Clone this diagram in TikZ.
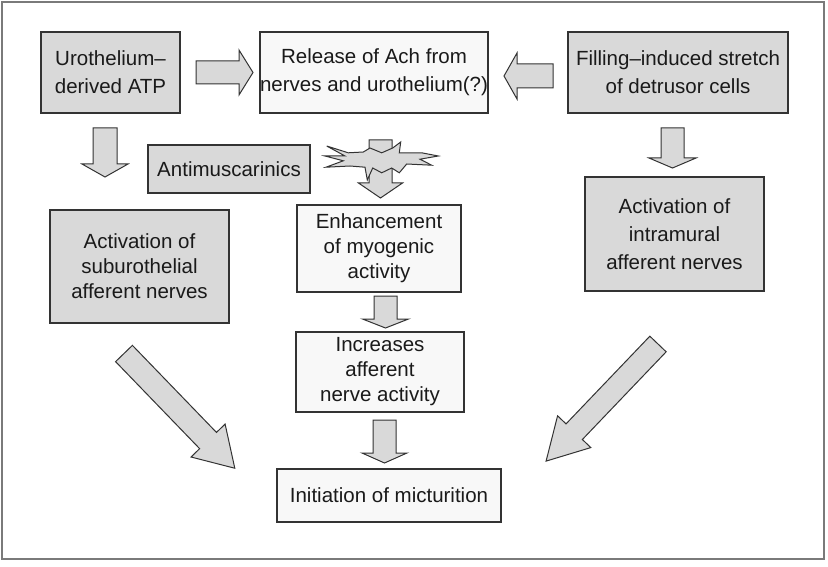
\documentclass[tikz,border=0pt]{standalone}
\usepackage{fontspec}
\setmainfont{Liberation Sans}
\definecolor{grayfill}{HTML}{D9D9D9}
\definecolor{lightfill}{HTML}{F8F8F8}
\definecolor{linec}{HTML}{333333}
\definecolor{framec}{HTML}{7A7A7A}
\definecolor{textc}{HTML}{1A1A1A}
\tikzset{
  boxbase/.style={draw=linec, line width=1.1pt, align=center, inner sep=0pt, text=textc},
  gbox/.style={boxbase, fill=grayfill},
  wbox/.style={boxbase, fill=lightfill},
  fa/.style={font=\fontsize{20.5}{28}\selectfont},
  fb/.style={font=\fontsize{20.5}{25}\selectfont},
  barr/.style={draw=linec, fill=grayfill, line width=1pt, line join=miter},
}
\newcommand{\blockarr}[7]{%
  \begin{scope}[shift={(#1,#2)},rotate=#3]
    \draw[barr] (0,-#5) -- (#4-#7,-#5) -- (#4-#7,-#6) -- (#4,0) -- (#4-#7,#6) -- (#4-#7,#5) -- (0,#5) -- cycle;
  \end{scope}}
\begin{document}
\begin{tikzpicture}[x=1pt,y=-1pt]
\useasboundingbox (0,0) rectangle (828,567);
\draw[framec, line width=1.5pt] (2,2) rectangle (824,559);

% boxes
\node[gbox, fa, minimum width=139pt, minimum height=81pt] (uro) at (110.5,72.5) {Urothelium–\\derived ATP};
\node[wbox, fa, minimum width=228pt, minimum height=81pt] (rel) at (374,72.5) {Release of Ach from\\nerves and urothelium(?)};
\node[gbox, fa, minimum width=220pt, minimum height=81pt] (fill) at (678,72.5) {Filling–induced stretch\\of detrusor cells};
\node[gbox, fa, minimum width=162pt, minimum height=48pt] (anti) at (229,169) {Antimuscarinics};
\node[gbox, fb, minimum width=179pt, minimum height=113pt] (sub) at (139.5,266.5) {Activation of\\suburothelial\\afferent nerves};
\node[gbox, fa, minimum width=179pt, minimum height=114pt] (intra) at (674.5,234) {Activation of\\intramural\\afferent nerves};
\node[wbox, fb, minimum width=164pt, minimum height=87pt] (enh) at (379,248.5) {Enhancement\\of myogenic\\activity};
\node[wbox, fb, minimum width=168pt, minimum height=80pt] (inc) at (380,372) {Increases\\afferent\\nerve activity};
\node[wbox, fa, minimum width=224pt, minimum height=53pt] (init) at (389,495.5) {Initiation of micturition};

% block arrows
\blockarr{196}{72.5}{0}{57}{11.5}{22.5}{14}
\blockarr{553}{76}{180}{49}{12}{23}{13}
\blockarr{105}{128}{-90}{49}{12}{23}{13}
\blockarr{672.5}{128}{-90}{40}{11.5}{23.5}{10}
\blockarr{385.5}{296}{-90}{32}{11.5}{23}{9}
\blockarr{384.5}{420}{-90}{43}{11.5}{22.5}{10}
\blockarr{124}{353.5}{-46}{159.5}{11.7}{23.7}{38.5}
\blockarr{658}{344}{-133.7}{162}{11.3}{23}{40.7}

% arrow under the starburst
\blockarr{380.5}{140}{-90}{58}{11.5}{22}{15}
% starburst
\draw[barr] (326.7,146) -- (348.3,152.8) -- (363.3,152) -- (370,148) -- (381.7,152.8)
  -- (392.7,148) -- (400.7,142) -- (399.3,152.8) -- (421.7,152.8) -- (438.3,156)
  -- (420,159.2) -- (431.7,165.2) -- (406.7,164) -- (399.3,172.8) -- (391.7,168)
  -- (381.7,172.8) -- (372.7,168) -- (367.3,180) -- (365,167.2) -- (350,166)
  -- (326,167.2) -- (343.3,160.8) -- (325,156) -- (345,156) -- cycle;
\end{tikzpicture}
\end{document}
